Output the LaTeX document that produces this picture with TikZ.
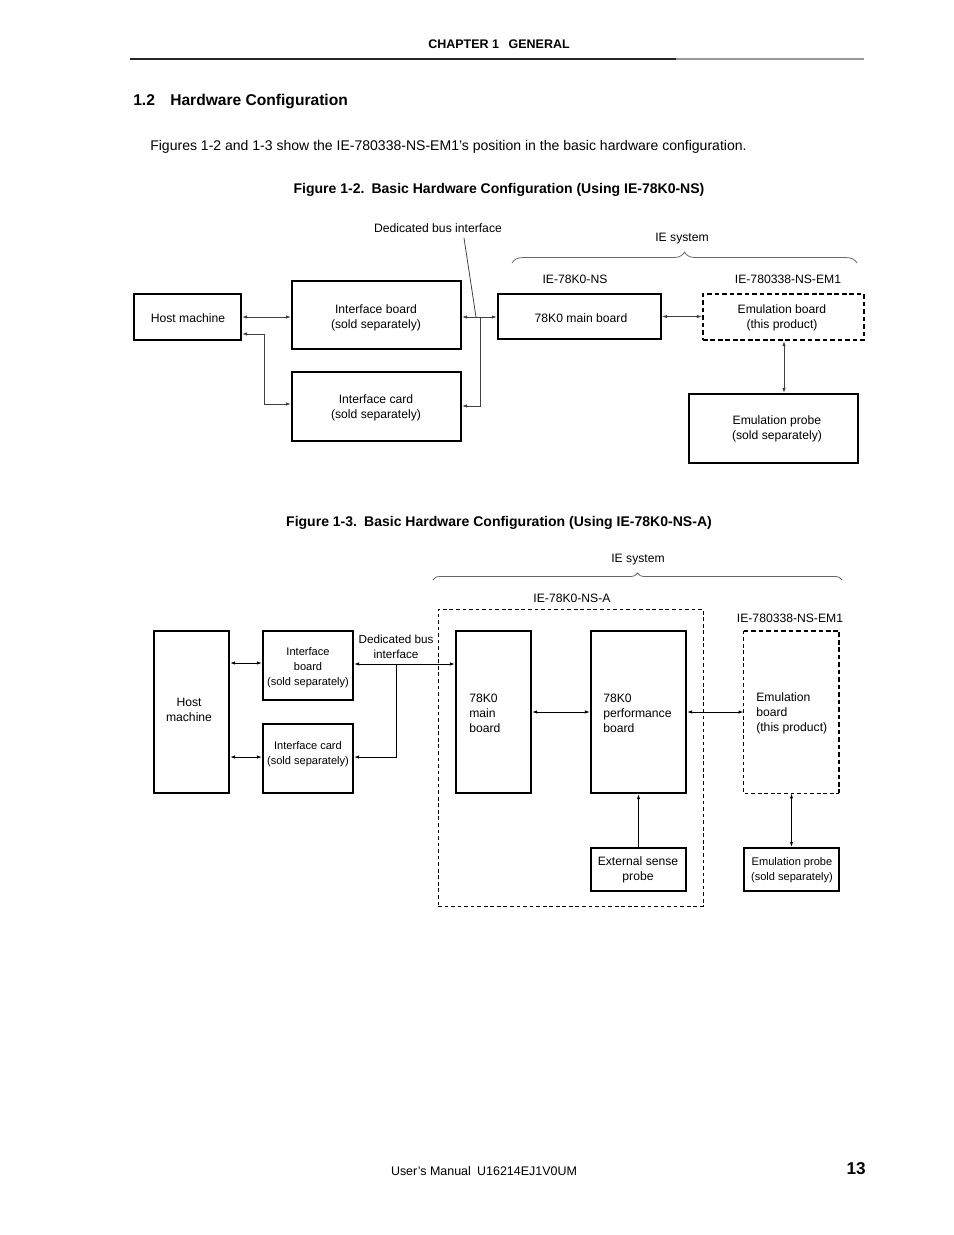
\documentclass[tikz,border=0pt]{standalone}
\usepackage{fontspec}
\setmainfont{Liberation Sans}
\usetikzlibrary{arrows.meta,decorations.pathreplacing,fit}
\newcommand\fa{\fontsize{7.8}{9.6}\selectfont}
\newcommand\fb{\fontsize{7.1}{9.6}\selectfont}
\newcommand\fc{\fontsize{7.5}{9.6}\selectfont}
\begin{document}
\begin{tikzpicture}[x=0.6415pt,y=-0.6415pt,
  every node/.style={inner sep=0pt},
  box/.style={draw, line width=1.3pt, inner sep=0pt},
  dbox/.style={draw, line width=1.3pt, dash pattern=on 3pt off 1.8pt, inner sep=0pt},
  lbl/.style={font=\fa, align=center},
  tA/.style={font=\fa, align=center},
  tB/.style={font=\fb, align=center},
  thinl/.style={line width=0.5pt, black!75},
  thinm/.style={line width=0.6pt, black},
  tip/.tip={Latex[length=3.3pt,width=2.2pt]},
  arr/.style={thinl, tip-tip},
  arre/.style={thinl, -tip},
  arr3/.style={thinm, tip-tip},
  arr3e/.style={thinm, -tip},
  brc/.style={line width=0.5pt, black!60, decorate}
]
\fill[white] (0,0) rectangle (954,1235);
\useasboundingbox (0,0) rectangle (954,1235);

% ---------- page header ----------
\node[font=\bfseries\fontsize{8}{9.6}\selectfont, anchor=base] (hdr) at (499,48) {CHAPTER 1\enspace\ GENERAL};
\draw[line width=0.7pt, black!85] (130,59) -- (676,59);
\draw[line width=0.7pt, black!40] (676,59) -- (864,59);

\node[font=\bfseries\fontsize{10}{12}\selectfont, anchor=base west] (secno) at (133,105) {1.2};
\node[font=\bfseries\fontsize{10}{12}\selectfont, anchor=base west] (sectitle) at (170,105) {Hardware Configuration};
\node[font=\fontsize{9}{11}\selectfont, anchor=base west] (body) at (150,150) {Figures 1-2 and 1-3 show the IE-780338-NS-EM1’s position in the basic hardware configuration.};

% ---------- Figure 1-2 ----------
\node[font=\bfseries\fontsize{9}{11}\selectfont, anchor=base] (fig2t) at (499,193) {Figure 1-2.\enspace Basic Hardware Configuration (Using IE-78K0-NS)};

\node[lbl] (dbi) at (438,228) {Dedicated bus interface};
\node[lbl] (ies1) at (682,239) {IE system};
\node[lbl] (ns) at (575,279) {IE-78K0-NS};
\node[lbl] (em1) at (788,279) {IE-780338-NS-EM1};
\draw[brc, decoration={brace, amplitude=7pt}] (512,263) -- (857,263);

\node[box, fit={(134,294)(241,340)}] (host) {};
\node[tA] (hostt) at (188,318) {Host machine};
\node[box, fit={(292,281)(461,349)}] (ib) {};
\node[tA] (ibt) at (376,318) {Interface board\\(sold separately)};
\node[box, fit={(292,372)(461,441)}] (ic) {};
\node[tA] (ict) at (376,408) {Interface card\\(sold separately)};
\node[box, fit={(498,294)(661,339)}] (mb) {};
\node[tA] (mbt) at (581,318) {78K0 main board};
\node[dbox, fit={(703,294)(864,340)}] (eb) {};
\node[tA] (ebt) at (782,318) {Emulation board\\(this product)};
\node[box, fit={(689,394)(858,463)}] (ep) {};
\node[tA] (ept) at (777,429) {Emulation probe\\(sold separately)};

\draw[arr] (host.east) -- (host.east -| ib.west);
\coordinate (j1) at (264,334);
\draw[arr] (host.east |- j1) -- (j1) |- (ic.west |- 0,404);
\draw[arr] (ib.east |- 0,317) -- (mb.west |- 0,317);
\coordinate (bus1) at (480,317);
\draw[arre] (bus1) |- (ic.east |- 0,406);
\coordinate (ldr0) at (464,238);
\coordinate (ldr1) at (476,317);
\draw[thinl] (ldr0) -- (ldr1);
\draw[arr] (mb.east) -- (eb.west |- mb.east);
\draw[arr] (eb.south -| 784,0) -- (ep.north -| 784,0);

% ---------- Figure 1-3 ----------
\node[font=\bfseries\fontsize{9}{11}\selectfont, anchor=base] (fig3t) at (499,526) {Figure 1-3.\enspace Basic Hardware Configuration (Using IE-78K0-NS-A)};

\node[lbl] (ies2) at (638,560) {IE system};
\draw[brc, decoration={brace, amplitude=4.5pt}] (433,580) -- (842,580);
\node[lbl] (nsa) at (572,598) {IE-78K0-NS-A};
\node[lbl] (em2) at (790,618) {IE-780338-NS-EM1};
\node[draw, line width=0.55pt, dash pattern=on 2.4pt off 1.8pt, fit={(438,609)(703,906)}] (nsabox) {};

\node[box, fit={(154,631)(229,793)}] (host2) {};
\node[tA] (host2t) at (189,710) {Host\\machine};
\node[box, fit={(263,631)(353,700)}] (ib2) {};
\node[tB] (ib2t) at (308,668) {Interface\\board\\(sold separately)};
\node[box, fit={(263,724)(353,793)}] (ic2) {};
\node[tB] (ic2t) at (308,754) {Interface card\\(sold separately)};
\node[font=\fc, align=center] (dbi2) at (396,647) {Dedicated bus\\interface};

\node[box, fit={(456,631)(531,793)}] (mb2) {};
\node[font=\fa, align=left, anchor=west] (mb2t) at (469,713) {78K0\\main\\board};
\node[box, fit={(591,631)(686,793)}] (pb) {};
\node[font=\fa, align=left, anchor=west] (pbt) at (603,713) {78K0\\performance\\board};
\node[fit={(744,631)(839,793)}] (eb2) {};
\draw[line width=1.3pt, dash pattern=on 3pt off 1.8pt] (eb2.north west) -- (eb2.north east) -- (eb2.south east);
\draw[line width=0.6pt, dash pattern=on 2.4pt off 1.8pt] (eb2.north west) -- (eb2.south west) -- (eb2.south east);
\node[font=\fa, align=left, anchor=west] (eb2t) at (756,713) {Emulation\\board\\(this product)};
\node[box, fit={(591,848)(686,891)}] (esp) {};
\node[tA] (espt) at (638,870) {External sense\\probe};
\node[box, fit={(744,848)(839,891)}] (ep2) {};
\node[tB] (ep2t) at (792,870) {Emulation probe\\(sold separately)};

\draw[arr3] (host2.east |- 0,663) -- (ib2.west |- 0,663);
\draw[arr3] (host2.east |- 0,757) -- (ic2.west |- 0,757);
\draw[arr3] (ib2.east |- 0,664) -- (mb2.west |- 0,664);
\coordinate (bus2) at (396,664);
\draw[arr3e] (bus2) |- (ic2.east |- 0,757);
\draw[arr3] (mb2.east |- 0,712) -- (pb.west |- 0,712);
\draw[arr3] (pb.east |- 0,712) -- (eb2.west |- 0,712);
\draw[arr3e] (esp.north) -- (pb.south);
\draw[arr3] (eb2.south) -- (ep2.north);

% ---------- footer ----------
\node[font=\fontsize{8}{10}\selectfont, anchor=base] (foot) at (484,1175) {User’s Manual\enspace U16214EJ1V0UM};
\node[font=\bfseries\fontsize{11}{13}\selectfont, anchor=base east] (pg) at (866,1174) {13};
\end{tikzpicture}
\end{document}
